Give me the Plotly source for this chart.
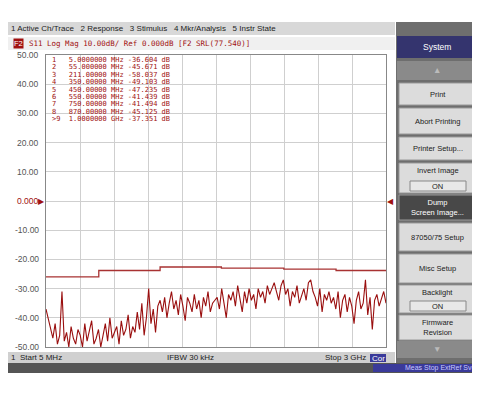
import plotly.graph_objects as go

start_ghz, stop_ghz, n_pts = 0.005, 3.0, 150
trace_db = [-37,-40,-44,-47,-42,-49,-46,-31,-48,-45,-50,-43,-47,-49,-44,-46,-50,-42,-48,-45,-41,-49,-47,-44,-50,-46,-42,-48,-40,-47,-45,-43,-49,-41,-46,-44,-39,-47,-43,-45,
 -38,-44,-35,-46,-40,-30,-42,-37,-45,-36,
 -34,-38,-33,-40,-35,-31,-37,-34,-39,-32,-36,-41,-33,-35,-38,-32,-37,-34,-40,-33,-36,-31,-38,-35,-34,
 -33,-37,-30,-35,-40,-32,-34,-31,-36,-29,-33,-38,-31,-35,-30,-34,-32,-37,-30,-33,-31,-35,-29,-32,-30,
 -28,-31,-34,-29,-27,-32,-30,-36,-31,-33,-29,-35,-32,-30,-34,-28,-27,-31,-33,-36,-30,-38,-32,-34,-31,
 -35,-33,-37,-31,-40,-34,-32,-38,-33,-36,-42,-34,-31,-37,-35,-27,-39,-33,-44,-34,-32,-36,-33,-31,-35]
limit_f = [0.005, 0.47, 0.47, 1.01, 1.01, 1.55, 1.55, 2.1, 2.1, 2.56, 2.56, 3.0]
limit_db = [-26, -26, -23.8, -23.8, -22.6, -22.6, -23, -23, -23.3, -23.3, -23.8, -23.8]
marker_f = [0.005, 0.055, 0.211, 0.35, 0.45, 0.55, 0.75, 0.87, 1.0]
marker_rows = ["1   5.0000000 MHz -36.604 dB", "2   55.000000 MHz -45.671 dB", "3   211.00000 MHz -58.037 dB",
               "4   350.00000 MHz -49.103 dB", "5   450.00000 MHz -47.235 dB", "6   550.00000 MHz -41.439 dB",
               "7   750.00000 MHz -41.494 dB", "8   870.00000 MHz -45.125 dB", ">9  1.0000000 GHz -37.351 dB"]
y_ticks = [50, 40, 30, 20, 10, 0, -10, -20, -30, -40, -50]
y_labels = ["50.00", "40.00", "30.00", "20.00", "10.00", "0.000", "-10.00", "-20.00", "-30.00", "-40.00", "-50.00"]
softkeys = [("Print", 83, 105), ("Abort Printing", 108, 134), ("Printer Setup...", 137, 160),
            ("Invert Image", 163, 193), ("Dump<br>Screen Image...", 195, 220), ("87050/75 Setup", 223, 251),
            ("Misc Setup", 254, 283), ("Backlight", 285, 313), ("Firmware<br>Revision", 315, 340)]

freqs = [start_ghz + i * (stop_ghz - start_ghz) / (n_pts - 1) for i in range(n_pts)]
OFF = 8  # page body margin
W, H = 480 - OFF, 400 - OFF
L, T = 46 - OFF, 55 - OFF
R, B = 480 - 386, 400 - 347
PW, PH = W - L - R, H - T - B
# reference-pixel -> paper coordinates
def px(x): return (x - 46) / PW
def py(y): return (347 - y) / PH

fig = go.Figure()
fig.add_trace(go.Scatter(x=limit_f, y=limit_db, mode="lines", line=dict(color="#a83232", width=1.3)))
fig.add_trace(go.Scatter(x=freqs, y=[max(v, -50) for v in trace_db], mode="lines", line=dict(color="#9a0f0f", width=1.1)))
fig.add_trace(go.Scatter(x=marker_f[:-1], y=[-50.8] * 8, mode="markers", cliponaxis=False,
                         marker=dict(symbol="triangle-up-open", size=8, color="#b02020")))
fig.add_trace(go.Scatter(x=marker_f[-1:], y=[-50.8], mode="markers", cliponaxis=False,
                         marker=dict(symbol="triangle-up", size=8, color="#8b0000")))

def rect(x0, x1, y0, y1, fill, line=None, layer="above"):
    return dict(type="rect", xref="paper", yref="paper", x0=px(x0), x1=px(x1), y0=py(y1), y1=py(y0),
                fillcolor=fill, line=line or dict(width=0), layer=layer)

shapes = [
    rect(0, 395, 22, 35, "#d8d8d8"),
    rect(0, 395, 37, 50, "#f0f0f0"),
    rect(0, 395, 352, 363, "#d0d0d0"),
    rect(0, 480, 363, 373, "#555555"),
    rect(396, 480, 22, 363, "#6e6e6e"),
    rect(397, 478, 36, 58, "#34346e"),
    rect(397, 478, 61, 80, "#8a8a8a"),
    rect(397, 478, 341, 358, "#8a8a8a"),
    rect(370, 386, 354, 362, "#3a3a9a"),
    rect(373, 480, 364, 372, "#3a3a9a"),
]
anns = [
    dict(text="1 Active Ch/Trace   2 Response   3 Stimulus   4 Mkr/Analysis   5 Instr State", x=10, y=28.5, xanchor="left", size=8),
    dict(text="S11 Log Mag 10.00dB/ Ref 0.000dB [F2 SRL(77.540)]", x=28, y=43.5, xanchor="left", color="#a01010", mono=True, size=7.5),
    dict(text="F2", x=13, y=43.5, xanchor="left", color="white", bg="#a01010", size=7.5),
    dict(text="1  Start 5 MHz", x=10, y=357.5, xanchor="left", size=8),
    dict(text="IFBW 30 kHz", x=190, y=357.5, xanchor="center", size=8),
    dict(text="Stop 3 GHz", x=367, y=357.5, xanchor="right", size=8),
    dict(text="Cor", x=378, y=358, xanchor="center", color="white", size=8),
    dict(text="Meas Stop ExtRef Svc", x=477, y=368, xanchor="right", color="#c8c8ff", size=7),
    dict(text="System", x=437, y=47, xanchor="center", color="white"),
    dict(text="▲", x=437, y=70, xanchor="center", color="#bbb"),
    dict(text="▼", x=437, y=349, xanchor="center", color="#bbb"),
]
for i, row in enumerate(marker_rows):
    anns.append(dict(text=row, x=51, y=60 + i * 7.4, xanchor="left", color="#a01010", mono=True, size=7))
for v, lab in zip(y_ticks, y_labels):
    y = 55 + (50 - v) * PH / 100
    anns.append(dict(text=lab, x=40, y=y, xanchor="right", color="#a01010" if v == 0 else "#555"))
for lab, y0, y1 in softkeys:
    dark = lab.startswith("Dump")
    shapes.append(rect(399, 476, y0, y1, "#484848" if dark else "#dcdcdc", dict(color="#999", width=1)))
    ty = (y0 + y1) / 2
    if lab in ("Invert Image", "Backlight"):
        shapes.append(rect(410, 466, y1 - 12, y1 - 2, "#e8e8e8", dict(color="#888", width=1)))
        anns.append(dict(text="ON", x=438, y=y1 - 7, xanchor="center", size=7.5))
        ty = y0 + 7
    anns.append(dict(text=lab, x=438, y=ty, xanchor="center", color="white" if dark else "#222", size=7.5))
anns.append(dict(text="▶", x=46, y=201, xanchor="right", color="#a01010", size=8))
anns.append(dict(text="◀", x=386, y=201, xanchor="left", color="#a01010", size=8))

for a in anns:
    fig.add_annotation(xref="paper", yref="paper", x=px(a["x"]), y=py(a["y"]), text=a["text"], xanchor=a["xanchor"],
                       yanchor="middle", showarrow=False, bgcolor=a.get("bg"), borderpad=0,
                       font=dict(family="DejaVu Sans Mono" if a.get("mono") else "Liberation Sans", size=a.get("size", 8.5),
                                 color=a.get("color", "#222")))

fig.update_layout(width=W, height=H, margin=dict(l=L, r=R, t=T, b=B), showlegend=False,
                  paper_bgcolor="white", plot_bgcolor="white", shapes=shapes,
                  xaxis=dict(range=[start_ghz, stop_ghz], tickvals=[start_ghz + i * (stop_ghz - start_ghz) / 10 for i in range(11)],
                             showticklabels=False, gridcolor="#cfcfcf", zeroline=False, showline=True, linecolor="#888", mirror=True),
                  yaxis=dict(range=[-50, 50], tickvals=y_ticks, showticklabels=False, gridcolor="#cfcfcf", zeroline=False,
                             showline=True, linecolor="#888", mirror=True))
fig.write_html("out.html")
